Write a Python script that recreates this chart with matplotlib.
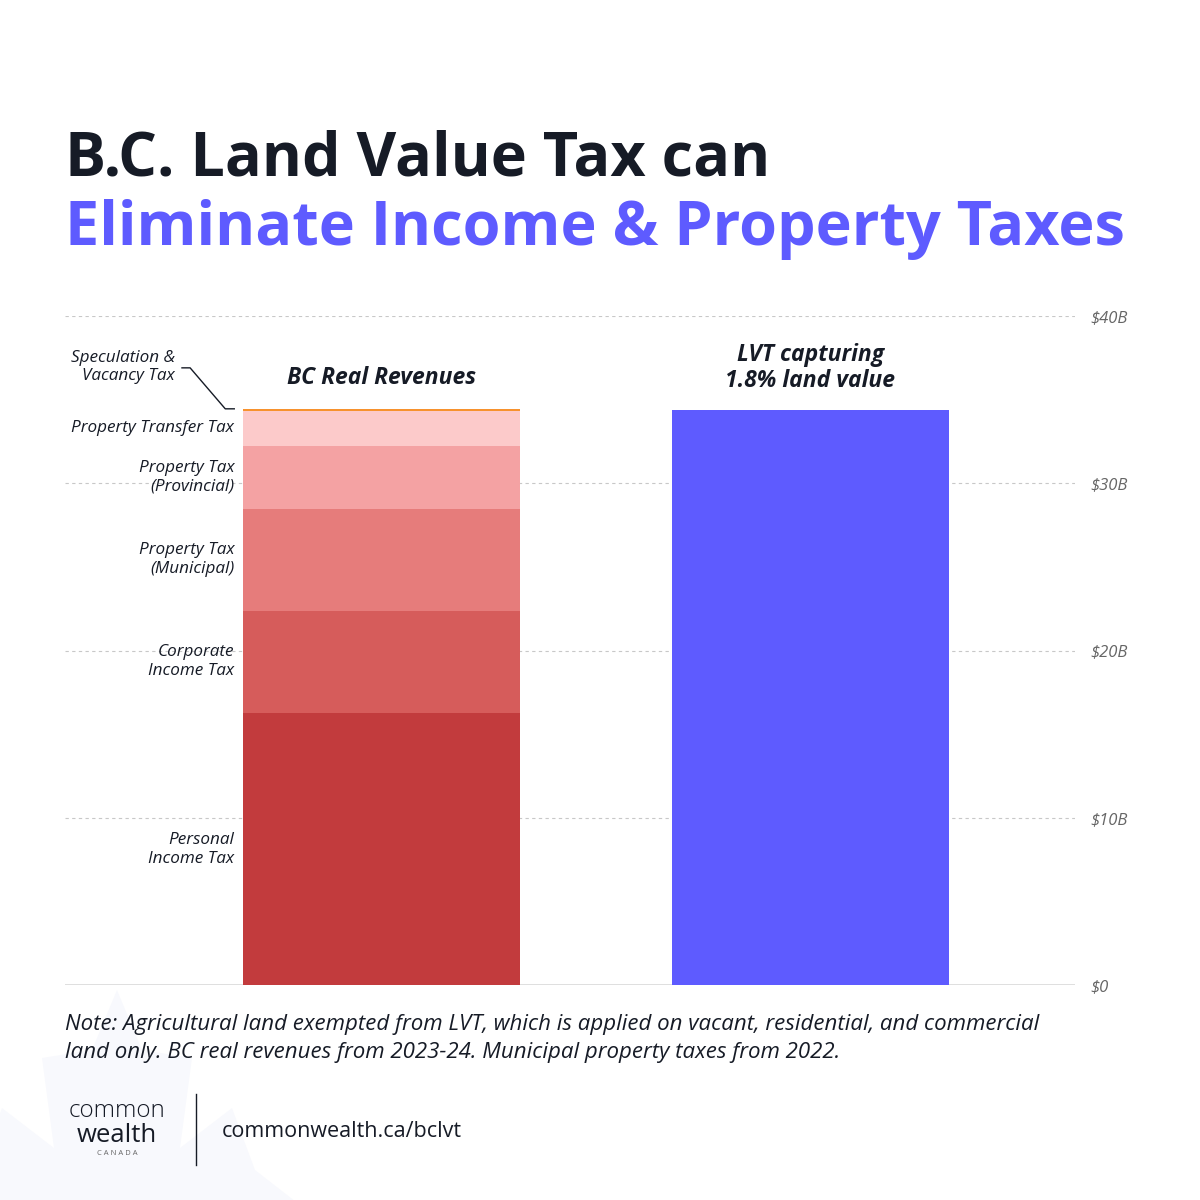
import matplotlib.pyplot as plt
import numpy as np
from matplotlib.patches import Polygon

# data ($ billions)
segments = ['Personal\nIncome Tax', 'Corporate\nIncome Tax', 'Property Tax\n(Municipal)',
            'Property Tax\n(Provincial)', 'Property Transfer Tax', 'Speculation &\nVacancy Tax']
seg_values = [16.25, 6.13, 6.10, 3.77, 2.08, 0.12]
seg_colors = ['#C23B3D', '#D65C5B', '#E67C7B', '#F4A2A3', '#FCCACA', '#F7922E']
lvt_value = 34.35
bar_titles = ['BC Real Revenues', 'LVT capturing\n1.8% land value']
yticks = [0, 10, 20, 30, 40]
ytick_labels = ['$0', '$10B', '$20B', '$30B', '$40B']

plt.rcParams['font.family'] = ['Open Sans', 'DejaVu Sans']
dark = '#161B26'
purple = '#5E5BFF'

fig = plt.figure(figsize=(12, 12), dpi=100)
fig.patch.set_facecolor('white')

# faint maple leaf behind the footer (pixel outline, mirrored about x=117)
half = [(117, 990), (142, 1050), (192, 1058), (180, 1148), (232, 1108), (255, 1170), (300, 1205)]
outline = half + [(234 - x, y) for x, y in half[::-1][:-1]]
leaf_pts = [(x / 1200, 1 - y / 1200) for x, y in outline]
fig.add_artist(Polygon(leaf_pts, closed=True, transform=fig.transFigure,
                       facecolor='#F8F9FD', edgecolor='none', zorder=0))

ax = fig.add_axes([65/1200, 215/1200, 1010/1200, 669/1200])
ax.set_facecolor('none')

w = 0.646
bottom = 0
for v, c in zip(seg_values, seg_colors):
    ax.bar(0, v, w, bottom=bottom, color=c, edgecolor='none', zorder=3)
    bottom += v
total = bottom
ax.bar(1, lvt_value, w, color=purple, edgecolor='none', zorder=3)

# segment labels
lab_x = -w/2 - 0.021
bottom = 0
for name, v in zip(segments[:-1], seg_values[:-1]):
    ax.text(lab_x, bottom + v/2, name, ha='right', va='center', style='italic',
            fontsize=12.3, color=dark, linespacing=1.25)
    bottom += v

# speculation label with leader line
ax.text(-0.482, 36.95, segments[-1], ha='right', va='center', style='italic',
        fontsize=12.3, color=dark, linespacing=1.15, clip_on=False)
ax.plot([-0.466, -0.447, -0.365, -w/2 - 0.021], [36.9, 36.9, total, total],
        color=dark, lw=1, clip_on=False, zorder=5)

# bar titles
ax.text(0, 35.55, bar_titles[0], ha='center', va='bottom', style='italic',
        fontweight='bold', fontsize=16.5, color=dark)
ax.text(1, 35.4, bar_titles[1], ha='center', va='bottom', style='italic',
        fontweight='bold', fontsize=16.5, color=dark, linespacing=1.1)

ax.set_xlim(-0.739, 1.618)
ax.set_ylim(0, 40)
for y in yticks[1:]:
    ax.axhline(y, color='#C8C8C8', lw=0.8, ls=(0, (3, 3)), zorder=1)
ax.axhline(0, color='#D9D9D9', lw=1.2, zorder=2)
for s in ax.spines.values():
    s.set_visible(False)
ax.set_xticks([])
ax.yaxis.tick_right()
ax.set_yticks(yticks)
ax.set_yticklabels(ytick_labels, style='italic', fontsize=12, color='#666666')
ax.tick_params(axis='y', length=0, pad=11)

# title
fig.text(65/1200, 1 - 175/1200, 'B.C. Land Value Tax can', fontsize=44, fontweight='bold',
         color=dark, ha='left', va='baseline')
fig.text(65/1200, 1 - 245/1200, 'Eliminate Income & Property Taxes', fontsize=44,
         fontweight='bold', color=purple, ha='left', va='baseline')

# note
fig.text(65/1200, 1 - 1030/1200,
         'Note: Agricultural land exempted from LVT, which is applied on vacant, residential, and commercial',
         fontsize=16, style='italic', color=dark, ha='left', va='baseline')
fig.text(65/1200, 1 - 1058/1200,
         'land only. BC real revenues from 2023-24. Municipal property taxes from 2022.',
         fontsize=16, style='italic', color=dark, ha='left', va='baseline')

# logo / footer
fig.text(117/1200, 1 - 1117/1200, 'common', fontsize=17.5, fontweight='light', color=dark,
         ha='center', va='baseline')
fig.text(117/1200, 1 - 1142/1200, 'wealth', fontsize=18.5, color=dark, ha='center', va='baseline')
fig.text(117/1200, 1 - 1155/1200, 'C A N A D A', fontsize=5.5, color='#666666', ha='center', va='baseline')
fig.add_artist(plt.Line2D([196/1200, 196/1200], [1 - 1165/1200, 1 - 1094/1200],
                          color=dark, lw=1, transform=fig.transFigure))
fig.text(222/1200, 1 - 1137/1200, 'commonwealth.ca/bclvt', fontsize=15.5, color=dark,
         ha='left', va='baseline')

fig.savefig('out.png', dpi=100, facecolor='white')
